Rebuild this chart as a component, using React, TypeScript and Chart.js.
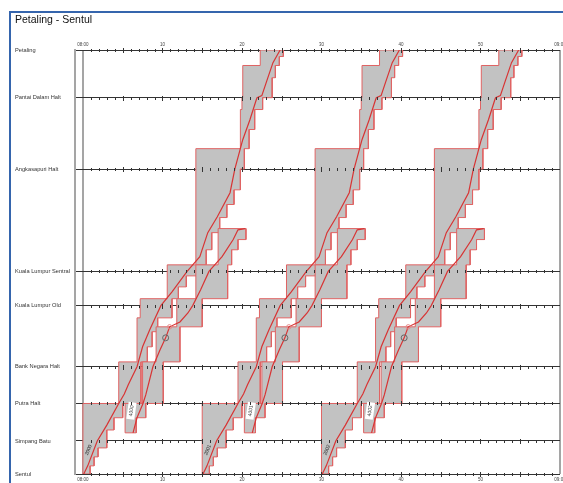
import { useEffect, useRef } from 'react';
import { Chart, registerables } from 'chart.js';

Chart.register(...registerables);

const FONT = "'Liberation Sans', Arial, sans-serif";

// Stations (distance in km from Sentul)
const stationNames = [
  'Petaling',
  'Pantai Dalam Halt',
  'Angkasapuri Halt',
  'Kuala Lumpur Sentral',
  'Kuala Lumpur Old',
  'Bank Negara Halt',
  'Putra Halt',
  'Simpang Batu',
  'Sentul',
];
const stationKm = [10.4, 9.23, 7.48, 4.97, 4.13, 2.63, 1.73, 0.81, 0];

// Time axis (minutes after 08:00)
const timeTickMin = [0, 10, 20, 30, 40, 50, 60];
const timeTickLabels = ['08:00', '10', '20', '30', '40', '50', '09:00'];

// Train groups repeat every 15 minutes
const periodOffsetMin = [0, 15, 30];
const mainTrainNumbers = ['2000', '2001', '2002'];
const shuttleTrainNumbers = ['4000', '4001', '4002'];

// Main train path Sentul -> Petaling
const mainPathMin = [0.1, 0.6, 1.8, 3.0, 4.5, 5.2, 5.7, 6.8, 7.5, 8.4, 9.8, 11.2, 13.1, 14.7, 15.7, 16.9, 18.5, 19.1, 20.1, 21.0, 21.8, 21.9, 22.5, 23.1, 23.9, 24.8];
const mainPathKm = [0, 0.2, 0.81, 1.2, 1.73, 1.96, 2.19, 2.63, 3.12, 3.54, 4.13, 4.47, 4.97, 5.33, 5.92, 6.31, 6.9, 7.48, 8.2, 8.69, 9.18, 9.23, 9.28, 9.63, 10.09, 10.4];

// Main train blocking times (block section boundaries, occupation start / end)
const mainBlockKm = [0, 0.2, 0.42, 0.64, 1.08, 1.38, 1.73, 2.75, 3.12, 3.49, 3.83, 4.3, 4.59, 4.86, 5.13, 5.5, 5.92, 6.29, 6.61, 6.97, 7.48, 7.98, 8.45, 8.94, 9.23, 9.72, 10.02, 10.24, 10.4];
const mainBlockStart = [0, 0, 0, 0, 0, 0, 4.5, 6.8, 6.8, 6.8, 7.2, 10.6, 10.6, 10.6, 14.2, 14.2, 14.2, 14.2, 14.2, 14.2, 14.2, 19.8, 19.8, 20.0, 20.1, 20.1, 22.3, 22.3];
const mainBlockEnd = [0.9, 1.4, 1.9, 3.0, 3.9, 5.0, 7.3, 8.1, 8.7, 9.4, 11.2, 12.0, 13.0, 14.3, 15.5, 16.2, 17.2, 18.1, 19.0, 19.8, 20.3, 20.9, 21.6, 22.6, 23.8, 24.2, 24.7, 25.2];

// Shuttle train path (siding near Putra -> beyond KL Sentral)
const shuttlePathMin = [6.3, 6.8, 7.55, 7.9, 8.8, 9.7, 10.4, 10.9, 12.2, 13.2, 13.8, 14.8, 15.85, 17.5, 18.9, 19.5, 20.4];
const shuttlePathKm = [1.01, 1.38, 1.73, 1.94, 2.63, 3.05, 3.34, 3.61, 3.73, 3.95, 4.13, 4.52, 4.97, 5.33, 5.75, 5.99, 6.02];

const shuttleBlockKm = [1.01, 1.38, 1.73, 2.75, 3.61, 4.3, 5.13, 5.5, 5.75, 6.02];
const shuttleBlockStart = [5.3, 5.3, 7.5, 9.2, 11.8, 14.2, 17.0, 17.0, 17.0];
const shuttleBlockEnd = [6.7, 7.9, 10.1, 12.2, 15.0, 18.2, 18.7, 19.5, 20.5];

// Stop / signal markers of the shuttle
const markerMin = [10.4, 10.9];
const markerKm = [3.34, 3.61];

// Train number label anchors
const mainLabelMin = 0.7;
const mainLabelKm = 0.59;
const shuttleLabelMin = 6.1;
const shuttleLabelKm = 1.55;

const FILL = '#c2c2c2';
const BLOCK_BORDER = '#e06464';
const TRAIN_LINE = '#d83434';

function blockPolygon(km: number[], start: number[], end: number[], o: number) {
  const pts: { x: number; y: number }[] = [];
  for (let i = 0; i < start.length; i++) {
    pts.push({ x: start[i] + o, y: km[i] });
    pts.push({ x: start[i] + o, y: km[i + 1] });
  }
  for (let i = end.length - 1; i >= 0; i--) {
    pts.push({ x: end[i] + o, y: km[i + 1] });
    pts.push({ x: end[i] + o, y: km[i] });
  }
  pts.push({ ...pts[0] });
  return pts;
}

function pathPoints(mins: number[], kms: number[], o: number) {
  return mins.map((m, i) => ({ x: m + o, y: kms[i] }));
}

const stationTicksPlugin = {
  id: 'stationTicks',
  afterDraw(chart: any) {
    const { ctx, scales } = chart;
    const x = scales.x;
    const y = scales.y;
    ctx.save();
    ctx.strokeStyle = '#333';
    ctx.lineWidth = 1;
    stationKm.forEach((km) => {
      const py = Math.round(y.getPixelForValue(km)) + 0.5;
      for (let m = 1; m < 60; m++) {
        const px = Math.round(x.getPixelForValue(m)) + 0.5;
        const h = m % 5 === 0 ? 2.5 : 1.5;
        ctx.beginPath();
        ctx.moveTo(px, py - h);
        ctx.lineTo(px, py + h);
        ctx.stroke();
      }
    });
    ctx.restore();
  },
};

const trainLabelPlugin = {
  id: 'trainLabels',
  afterDatasetsDraw(chart: any) {
    const { ctx, scales } = chart;
    const x = scales.x;
    const y = scales.y;
    ctx.save();
    ctx.font = `5px ${FONT}`;
    ctx.textAlign = 'center';
    ctx.textBaseline = 'middle';
    const draw = (text: string, px: number, py: number, deg: number, box: boolean) => {
      ctx.save();
      ctx.translate(px, py);
      ctx.rotate((deg * Math.PI) / 180);
      if (box) {
        const w = ctx.measureText(text).width + 6;
        ctx.fillStyle = '#ffffff';
        ctx.fillRect(-w / 2, -4, w, 8);
      }
      ctx.fillStyle = '#333';
      ctx.fillText(text, 0, 0);
      ctx.restore();
    };
    periodOffsetMin.forEach((o, g) => {
      draw(mainTrainNumbers[g], x.getPixelForValue(mainLabelMin + o), y.getPixelForValue(mainLabelKm), -68, false);
      draw(shuttleTrainNumbers[g], x.getPixelForValue(shuttleLabelMin + o), y.getPixelForValue(shuttleLabelKm), -82, true);
    });
    ctx.restore();
  },
};

export default function App() {
  const ref = useRef<HTMLCanvasElement>(null);

  useEffect(() => {
    const canvas = ref.current;
    if (!canvas) return;
    const datasets: any[] = [];
    // Train paths and markers (drawn on top: lower order)
    periodOffsetMin.forEach((o, g) => {
      datasets.push({
        label: `Stops ${shuttleTrainNumbers[g]}`,
        order: 0,
        data: pathPoints(markerMin, markerKm, o),
        showLine: false,
        pointStyle: 'circle',
        pointRadius: [3, 2.2],
        pointBorderColor: ['#666666', '#e58a8a'],
        pointBackgroundColor: 'rgba(0,0,0,0)',
        pointBorderWidth: 1,
      });
      datasets.push({
        label: mainTrainNumbers[g],
        order: 1,
        data: pathPoints(mainPathMin, mainPathKm, o),
        showLine: true,
        fill: false,
        borderColor: TRAIN_LINE,
        borderWidth: 1.2,
        pointRadius: 0,
        tension: 0,
      });
      datasets.push({
        label: shuttleTrainNumbers[g],
        order: 1,
        data: pathPoints(shuttlePathMin, shuttlePathKm, o),
        showLine: true,
        fill: false,
        borderColor: TRAIN_LINE,
        borderWidth: 1.2,
        pointRadius: 0,
        tension: 0,
      });
    });
    // Blocking time staircases (drawn beneath)
    periodOffsetMin.forEach((o, g) => {
      datasets.push({
        label: `Blocking ${shuttleTrainNumbers[g]}`,
        order: 2,
        data: blockPolygon(shuttleBlockKm, shuttleBlockStart, shuttleBlockEnd, o),
        showLine: true,
        fill: 'shape',
        backgroundColor: FILL,
        borderColor: BLOCK_BORDER,
        borderWidth: 1,
        pointRadius: 0,
        tension: 0,
      });
      datasets.push({
        label: `Blocking ${mainTrainNumbers[g]}`,
        order: 3,
        data: blockPolygon(mainBlockKm, mainBlockStart, mainBlockEnd, o),
        showLine: true,
        fill: 'shape',
        backgroundColor: FILL,
        borderColor: BLOCK_BORDER,
        borderWidth: 1,
        pointRadius: 0,
        tension: 0,
      });
    });

    const tickFont = { family: FONT, size: 4.5 };
    const timeCallback = (v: any) => {
      const i = timeTickMin.indexOf(Number(v));
      return i >= 0 ? timeTickLabels[i] : '';
    };

    const chart = new Chart(canvas, {
      type: 'scatter',
      data: { datasets },
      options: {
        responsive: false,
        animation: false,
        events: [],
        layout: { padding: { left: 15, right: 40, top: 0, bottom: 0 } },
        plugins: {
          legend: { display: false },
          tooltip: { enabled: false },
          title: {
            display: true,
            text: 'Petaling - Sentul',
            align: 'start',
            color: '#111',
            font: { family: FONT, size: 10.5, weight: 'normal', lineHeight: 1.2 },
            padding: { top: 14, bottom: 0 },
          },
        },
        scales: {
          x: {
            type: 'linear',
            position: 'bottom',
            min: -1,
            max: 60,
            afterBuildTicks: (s: any) => {
              s.ticks = timeTickMin.map((v) => ({ value: v }));
            },
            afterFit: (s: any) => {
              s.height = 16;
            },
            ticks: {
              callback: timeCallback,
              font: tickFont,
              color: '#444',
              padding: 3,
              maxRotation: 0,
              autoSkip: false,
            },
            grid: {
              drawTicks: false,
              lineWidth: 2,
              color: (ctx: any) =>
                ctx.tick && (ctx.tick.value === 0 || ctx.tick.value === 60) ? '#a5a5a5' : 'rgba(0,0,0,0)',
            },
            border: { display: false },
          },
          x2: {
            type: 'linear',
            position: 'top',
            min: -1,
            max: 60,
            afterBuildTicks: (s: any) => {
              s.ticks = timeTickMin.map((v) => ({ value: v }));
            },
            afterFit: (s: any) => {
              s.height = 23.4;
            },
            ticks: {
              callback: timeCallback,
              font: tickFont,
              color: '#444',
              padding: 3,
              maxRotation: 0,
              autoSkip: false,
            },
            grid: { display: false, drawTicks: false },
            border: { display: false },
          },
          y: {
            type: 'linear',
            min: 0,
            max: 10.4,
            z: 1,
            afterBuildTicks: (s: any) => {
              s.ticks = stationKm.map((v) => ({ value: v }));
            },
            afterFit: (s: any) => {
              s.width = 60;
            },
            ticks: {
              callback: (v: any) => {
                const i = stationKm.indexOf(Number(v));
                return i >= 0 ? stationNames[i] : '';
              },
              crossAlign: 'far',
              font: { family: FONT, size: 5.7 },
              color: '#333',
              padding: 0,
              autoSkip: false,
            },
            grid: { color: '#333', lineWidth: 1, drawTicks: false },
            border: { display: true, color: '#a5a5a5', width: 2 },
          },
        },
      } as any,
      plugins: [trainLabelPlugin, stationTicksPlugin],
    });
    return () => chart.destroy();
  }, []);

  return (
    <div
      style={{
        position: 'fixed',
        left: 0,
        top: 0,
        width: 563,
        height: 483,
        overflow: 'hidden',
        background: '#ffffff',
      }}
    >
      <div
        style={{
          position: 'absolute',
          left: 9,
          top: 11,
          width: 700,
          height: 600,
          borderTop: '2px solid #3565ad',
          borderLeft: '2px solid #3565ad',
        }}
      />
      <canvas
        ref={ref}
        width={600}
        height={490}
        style={{ position: 'absolute', left: 0, top: 0, width: 600, height: 490 }}
      />
    </div>
  );
}
